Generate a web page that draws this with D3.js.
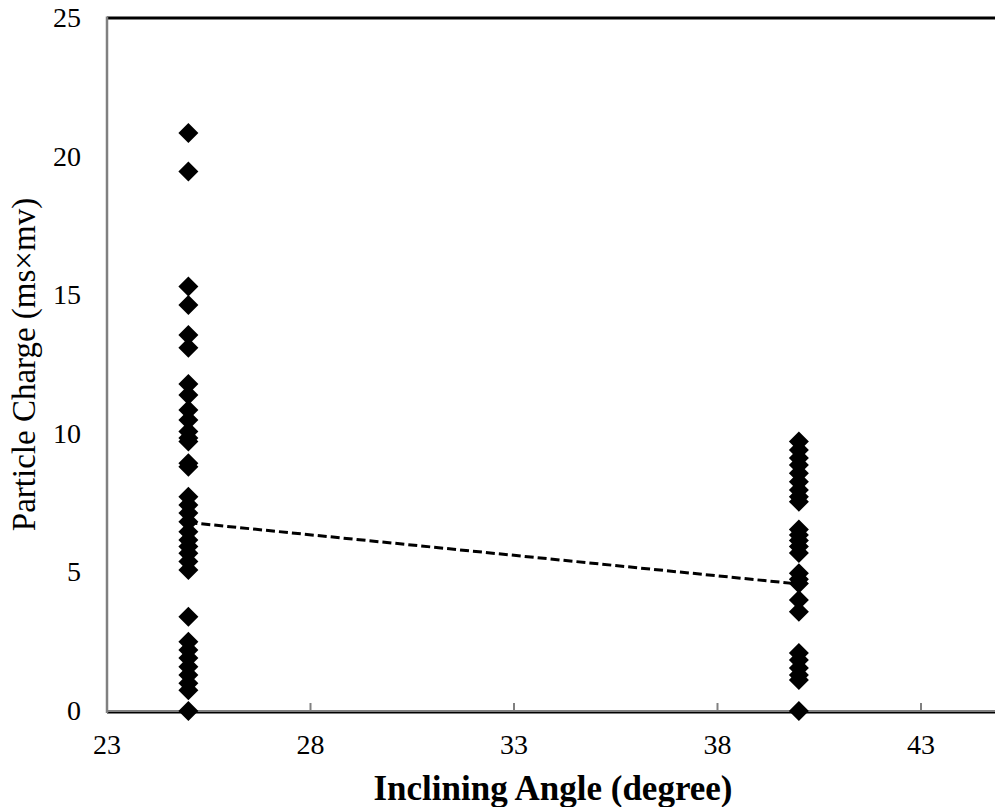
<!DOCTYPE html>
<html>
<head>
<meta charset="utf-8">
<script src="https://cdn.jsdelivr.net/npm/d3@7"></script>
<style>
  body { margin: 0; background: #fff; }
  svg { display: block; }
  text { font-family: "Liberation Serif", "Times New Roman", serif; fill: #000; }
</style>
</head>
<body>
<div id="viz"></div>
<script>
// values
const angles = [25, 40];
const charge25 = [20.85, 19.46, 15.31, 14.65, 13.56, 13.1, 11.8, 11.4, 10.86, 10.5,
  10.08, 9.85, 9.72, 8.94, 8.81, 7.73, 7.43, 7.14, 6.83, 6.47, 6.17, 5.93, 5.69,
  5.39, 5.09, 3.4, 2.5, 2.2, 1.91, 1.6, 1.3, 1.0, 0.75, 0];
const charge40 = [9.72, 9.42, 9.13, 8.87, 8.58, 8.27, 7.97, 7.73, 7.55, 6.55, 6.35,
  6.15, 5.93, 5.7, 4.97, 4.75, 4.6, 4.0, 3.58, 2.09, 1.84, 1.55, 1.3, 1.12, 0];
const trendX = [25, 40];
const trendY = [6.8, 4.58];
const xTicks = [23, 28, 33, 38, 43];
const yTicks = [0, 5, 10, 15, 20, 25];

const width = 995, height = 807;
const margin = { top: 18, right: 0, bottom: 96, left: 107 };

const points = [];
charge25.forEach(v => points.push({ x: angles[0], y: v }));
charge40.forEach(v => points.push({ x: angles[1], y: v }));

const svg = d3.select('#viz').append('svg')
  .attr('width', width)
  .attr('height', height);

const xScale = d3.scaleLinear()
  .domain([23, 45])
  .range([margin.left, margin.left + 22 * 40.7]);

const yScale = d3.scaleLinear()
  .domain([0, 25])
  .range([height - margin.bottom, margin.top]);

// plot frame: heavy top, black bottom
svg.append('line')
  .attr('x1', margin.left).attr('x2', width)
  .attr('y1', yScale(25)).attr('y2', yScale(25))
  .attr('stroke', '#000').attr('stroke-width', 3);

svg.append('line')
  .attr('x1', margin.left).attr('x2', width)
  .attr('y1', yScale(0) + 1.5).attr('y2', yScale(0) + 1.5)
  .attr('stroke', '#000').attr('stroke-width', 2);

// x axis (gray, ticks pointing inward)
const xGuide = svg.append('g')
  .attr('transform', 'translate(0,' + yScale(0) + ')');

xGuide.append('line')
  .attr('x1', margin.left).attr('x2', width)
  .attr('stroke', '#808080').attr('stroke-width', 2);

xGuide.selectAll('.tick')
  .data(xTicks)
  .enter().append('line')
  .attr('x1', d => xScale(d)).attr('x2', d => xScale(d))
  .attr('y1', 0).attr('y2', -8)
  .attr('stroke', '#808080').attr('stroke-width', 2);

xGuide.selectAll('.lbl')
  .data(xTicks)
  .enter().append('text')
  .attr('x', d => xScale(d))
  .attr('y', 43)
  .attr('text-anchor', 'middle')
  .style('font-size', '28px')
  .text(d => d);

// y axis
const yGuide = svg.append('g');

yGuide.append('line')
  .attr('x1', margin.left).attr('x2', margin.left)
  .attr('y1', yScale(25) - 1.5).attr('y2', yScale(0) + 2)
  .attr('stroke', '#808080').attr('stroke-width', 2.5);

yGuide.selectAll('text')
  .data(yTicks)
  .enter().append('text')
  .attr('x', 81)
  .attr('y', d => yScale(d) + 9)
  .attr('text-anchor', 'end')
  .style('font-size', '28px')
  .text(d => d);

// trend line
const line = d3.line()
  .x(d => xScale(d[0]))
  .y(d => yScale(d[1]));

svg.append('path')
  .datum(trendX.map((x, i) => [x, trendY[i]]))
  .attr('d', line)
  .attr('fill', 'none')
  .attr('stroke', '#000')
  .attr('stroke-width', 3)
  .attr('stroke-dasharray', '9,4');

// diamond markers
const diamond = d3.symbol().type(d3.symbolSquare).size(200);

svg.append('g')
  .selectAll('path')
  .data(points)
  .enter().append('path')
  .attr('d', diamond)
  .attr('transform', d => 'translate(' + xScale(d.x) + ',' + yScale(d.y) + ') rotate(45)')
  .attr('fill', '#000');

// axis titles
svg.append('text')
  .attr('x', 553)
  .attr('y', 800)
  .attr('text-anchor', 'middle')
  .style('font-size', '35px')
  .style('font-weight', 'bold')
  .text('Inclining Angle (degree)');

svg.append('text')
  .attr('transform', 'translate(35,' + yScale(12.5) + ') rotate(-90)')
  .attr('text-anchor', 'middle')
  .style('font-size', '33px')
  .text('Particle Charge (ms×mv)');
</script>
</body>
</html>
